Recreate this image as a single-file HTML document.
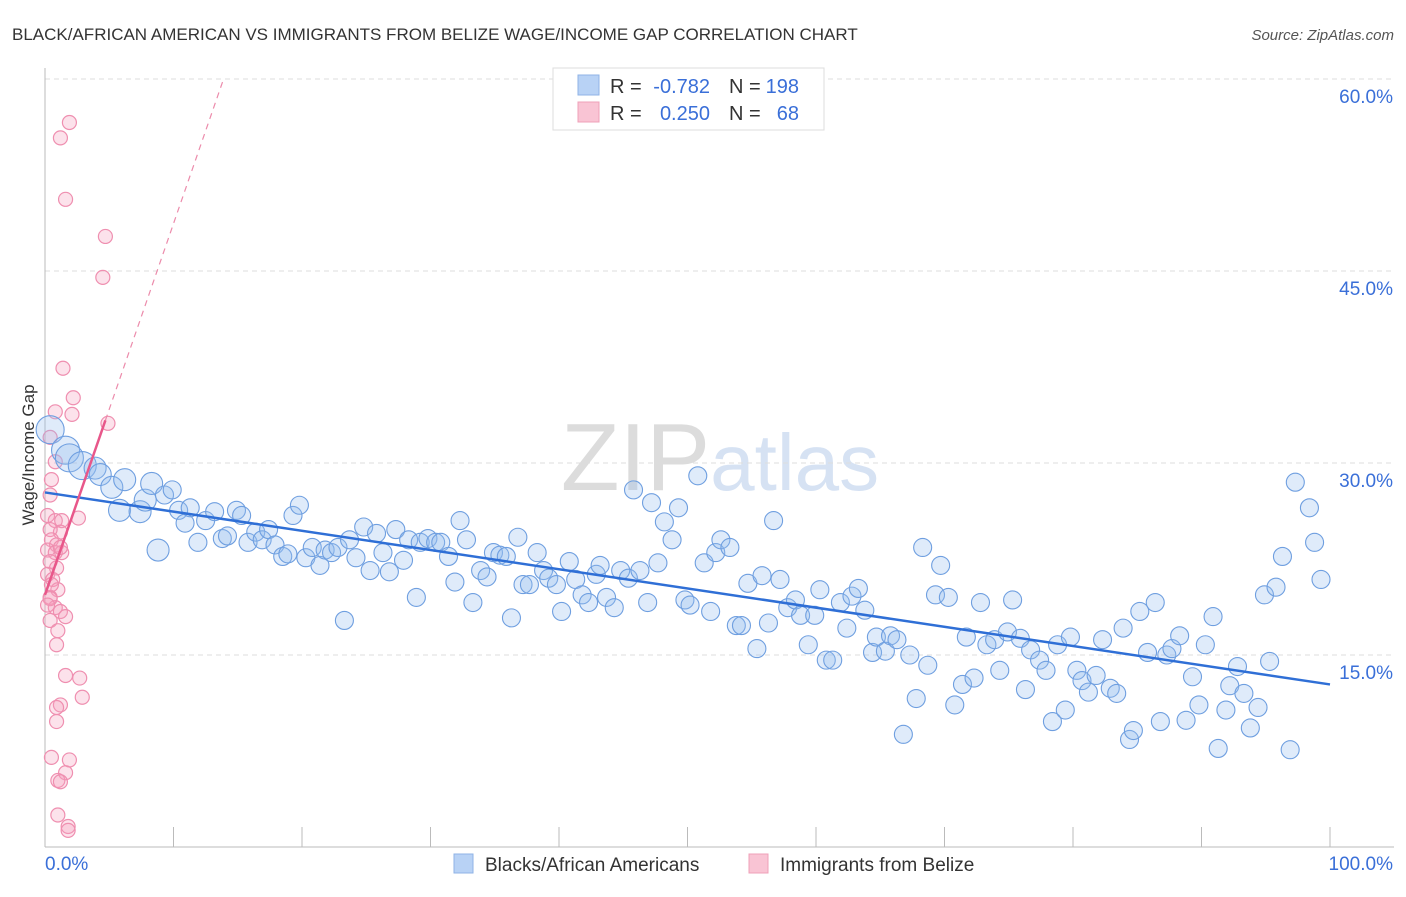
<!DOCTYPE html>
<html><head><meta charset="utf-8"><style>
body{margin:0;background:#fff;font-family:"Liberation Sans",sans-serif;}
svg text{font-family:"Liberation Sans",sans-serif;}
</style></head><body>
<svg id="chart" width="1406" height="892" xmlns="http://www.w3.org/2000/svg">
<text x="12" y="40" font-size="17" fill="#333">BLACK/AFRICAN AMERICAN VS IMMIGRANTS FROM BELIZE WAGE/INCOME GAP CORRELATION CHART</text>
<text x="1394" y="40" font-size="15" fill="#555" text-anchor="end" font-style="italic">Source: ZipAtlas.com</text>
<text x="720" y="490" font-size="96" fill="#e4e4e4" text-anchor="middle" font-family="Liberation Serif"><tspan fill="#dcdcdc">ZIP</tspan><tspan fill="#d6e2f3" font-family="Liberation Sans" font-size="80">atlas</tspan></text>
<g id="grid"></g>
<g id="axes"></g>
<g id="pts"></g>
<g id="lines"></g>
<text transform="translate(34,455) rotate(-90)" font-size="17" fill="#333" text-anchor="middle">Wage/Income Gap</text>
<g>
<rect x="553" y="68" width="271" height="62" fill="#fff" stroke="#ddd"/>
<rect x="578" y="75" width="21" height="20" fill="#b8d2f5" stroke="#8fb3e6"/>
<rect x="578" y="102" width="21" height="20" fill="#f9c4d4" stroke="#efa0b8"/>
<text x="610" y="93" font-size="20" fill="#333">R =</text>
<text x="710" y="93" font-size="20" fill="#3a6fd8" text-anchor="end">-0.782</text>
<text x="729" y="93" font-size="20" fill="#333">N =</text>
<text x="799" y="93" font-size="20" fill="#3a6fd8" text-anchor="end">198</text>
<text x="610" y="120" font-size="20" fill="#333">R =</text>
<text x="710" y="120" font-size="20" fill="#3a6fd8" text-anchor="end">0.250</text>
<text x="729" y="120" font-size="20" fill="#333">N =</text>
<text x="799" y="120" font-size="20" fill="#3a6fd8" text-anchor="end">68</text>
</g>
<g>
<rect x="454" y="854" width="19" height="19" fill="#b8d2f5" stroke="#8fb3e6"/>
<text x="485" y="871" font-size="19" fill="#333">Blacks/African Americans</text>
<rect x="749" y="854" width="19" height="19" fill="#f9c4d4" stroke="#efa0b8"/>
<text x="780" y="871" font-size="19" fill="#333">Immigrants from Belize</text>
</g>
</svg>
<script>
const blueX=[0.4,1.6,1.9,2.9,3.9,4.3,5.2,6.2,5.8,7.4,7.8,8.3,8.8,9.3,9.9,10.4,10.9,11.3,11.9,12.5,13.2,13.8,14.2,14.9,15.3,15.8,16.4,16.9,17.4,17.9,18.5,18.9,19.3,19.8,20.3,20.8,21.4,21.8,22.3,22.8,23.3,23.7,24.2,24.8,25.3,25.8,26.3,26.8,27.3,27.9,28.3,28.9,29.2,29.8,30.4,30.8,31.4,31.9,32.3,32.8,33.3,33.9,34.4,34.9,35.4,35.9,36.3,36.8,37.2,37.7,38.3,38.8,39.2,39.8,40.2,40.8,41.3,41.8,42.3,42.9,43.2,43.7,44.3,44.8,45.4,45.8,46.3,46.9,47.2,47.7,48.2,48.8,49.3,49.8,50.2,50.8,51.3,51.8,52.2,52.6,53.3,53.8,54.2,54.7,55.4,55.8,56.3,56.7,57.2,57.8,58.4,58.8,59.4,59.9,60.3,60.8,61.3,61.9,62.4,62.8,63.3,63.8,64.4,64.7,65.4,65.8,66.3,66.8,67.3,67.8,68.3,68.7,69.3,69.7,70.3,70.8,71.4,71.7,72.3,72.8,73.3,73.9,74.3,74.9,75.3,75.9,76.3,76.7,77.4,77.9,78.4,78.8,79.4,79.8,80.3,80.7,81.2,81.8,82.3,82.9,83.4,83.9,84.4,84.7,85.2,85.8,86.4,86.8,87.3,87.7,88.3,88.8,89.3,89.8,90.3,90.9,91.3,91.9,92.2,92.8,93.3,93.8,94.4,94.9,95.3,95.8,96.3,96.9,97.3,98.4,98.8,99.3];
const blueY=[32.6,31.0,30.4,29.8,29.6,29.1,28.1,28.7,26.3,26.2,27.1,28.4,23.2,27.5,27.9,26.3,25.3,26.5,23.8,25.5,26.2,24.1,24.3,26.3,25.9,23.8,24.6,24.0,24.8,23.6,22.7,22.9,25.9,26.7,22.6,23.4,22.0,23.2,23.0,23.4,17.7,24.0,22.6,25.0,21.6,24.5,23.0,21.5,24.8,22.4,24.0,19.5,23.8,24.1,23.8,23.8,22.7,20.7,25.5,24.0,19.1,21.6,21.1,23.0,22.8,22.7,17.9,24.2,20.5,20.5,23.0,21.6,21.0,20.5,18.4,22.3,20.9,19.7,19.1,21.3,22.0,19.5,18.7,21.6,21.0,27.9,21.6,19.1,26.9,22.2,25.4,24.0,26.5,19.3,18.9,29.0,22.2,18.4,23.0,24.0,23.4,17.3,17.3,20.6,15.5,21.2,17.5,25.5,20.9,18.7,19.3,18.1,15.8,18.1,20.1,14.6,14.6,19.1,17.1,19.6,20.2,18.5,15.2,16.4,15.3,16.5,16.2,8.8,15.0,11.6,23.4,14.2,19.7,22.0,19.5,11.1,12.7,16.4,13.2,19.1,15.8,16.2,13.8,16.8,19.3,16.3,12.3,15.4,14.6,13.8,9.8,15.8,10.7,16.4,13.8,13.0,12.1,13.4,16.2,12.4,12.0,17.1,8.4,9.1,18.4,15.2,19.1,9.8,15.0,15.5,16.5,9.9,13.3,11.1,15.8,18.0,7.7,10.7,12.6,14.1,12.0,9.3,10.9,19.7,14.5,20.3,22.7,7.6,28.5,26.5,23.8,20.9];
const pinkX=[1.9,1.2,1.6,4.7,4.5,1.4,2.2,0.8,2.1,4.9,0.4,0.8,0.5,0.4,2.6,0.2,0.8,1.3,1.2,0.4,0.5,0.9,0.2,0.8,1.3,0.4,0.9,0.2,0.6,1.0,0.4,0.8,1.2,1.6,0.4,1.0,0.9,1.6,2.7,2.9,1.2,0.9,0.9,1.9,0.5,1.6,1.0,1.2,1.0,1.8,1.8,0.4,0.2,0.5,1.2];
const pinkY=[56.6,55.4,50.6,47.7,44.5,37.4,35.1,34.0,33.8,33.1,32.0,30.1,28.7,27.5,25.7,25.9,25.5,25.5,24.6,24.8,24.0,23.6,23.2,23.0,23.0,22.3,21.8,21.3,20.9,20.1,19.5,18.7,18.4,18.0,17.7,16.9,15.8,13.4,13.2,11.7,11.1,10.9,9.8,6.8,7.0,5.8,5.2,5.1,2.5,1.6,1.3,19.4,18.9,20.5,23.4];
const blueTrend=[27.7,12.7];
const pinkTrend={intercept:19.7,slope:2.9,solidEnd:4.7};
const yTicks=[15,30,45,60];
const yTickLabels=["15.0%","30.0%","45.0%","60.0%"];
const xTicks=[0,10,20,30,40,50,60,70,80,90,100];

const NS="http://www.w3.org/2000/svg";
const sx=v=>45+v*12.85, sy=v=>847-v*12.8;
function mk(tag,attrs,parent){const e=document.createElementNS(NS,tag);for(const k in attrs)e.setAttribute(k,attrs[k]);parent.appendChild(e);return e;}
const grid=document.getElementById('grid'),axes=document.getElementById('axes'),pts=document.getElementById('pts'),lines=document.getElementById('lines');
yTicks.forEach((t,i)=>{
 const l=mk('line',{x1:45,x2:1394,y1:sy(t),y2:sy(t),stroke:'#ddd','stroke-dasharray':'5,4'},grid);
 
 
 const tx=mk('text',{x:1393,y:sy(t)+24,'font-size':19,fill:'#3a6fd8','text-anchor':'end'},axes);
 tx.textContent=yTickLabels[i];
 
 
});
const yl=mk('line',{x1:45,x2:45,y1:68,y2:847,stroke:'#bbb'},axes);


const xl=mk('line',{x1:45,x2:1394,y1:847,y2:847,stroke:'#bbb'},axes);


xTicks.forEach(t=>{
 const l=mk('line',{x1:sx(t),x2:sx(t),y1:827,y2:847,stroke:'#bbb'},axes);
 
 
});
const x0=mk('text',{x:45,y:870,'font-size':19,fill:'#3a6fd8'},axes);x0.textContent='0.0%';


const x1=mk('text',{x:1393,y:870,'font-size':19,fill:'#3a6fd8','text-anchor':'end'},axes);x1.textContent='100.0%';


pinkX.forEach((x,i)=>{
 const c=mk('circle',{cx:sx(x),cy:sy(pinkY[i]),r:7,fill:'rgba(246,160,190,0.3)',stroke:'#ef8fb0','stroke-width':1.2},pts);
 
 
});
blueX.forEach((x,i)=>{
 const r=x<3?14:(x<9?11:9);
 const c=mk('circle',{cx:sx(x),cy:sy(blueY[i]),r:r,fill:'rgba(150,190,240,0.3)',stroke:'#6f9fe0','stroke-width':1.1},pts);
 
 
});
const bl=mk('line',{x1:sx(0),y1:sy(blueTrend[0]),x2:sx(100),y2:sy(blueTrend[1]),stroke:'#2f6fd6','stroke-width':2.5},lines);


const xe=(60-pinkTrend.intercept)/pinkTrend.slope;
const pd=mk('line',{x1:sx(pinkTrend.solidEnd),y1:sy(pinkTrend.intercept+pinkTrend.slope*pinkTrend.solidEnd),x2:sx(xe),y2:sy(60),stroke:'#ec8bab','stroke-width':1.2,'stroke-dasharray':'6,5'},lines);


const ps=mk('line',{x1:sx(0),y1:sy(pinkTrend.intercept),x2:sx(pinkTrend.solidEnd),y2:sy(pinkTrend.intercept+pinkTrend.slope*pinkTrend.solidEnd),stroke:'#e8578a','stroke-width':2.5},lines);


</script>
</body></html>
